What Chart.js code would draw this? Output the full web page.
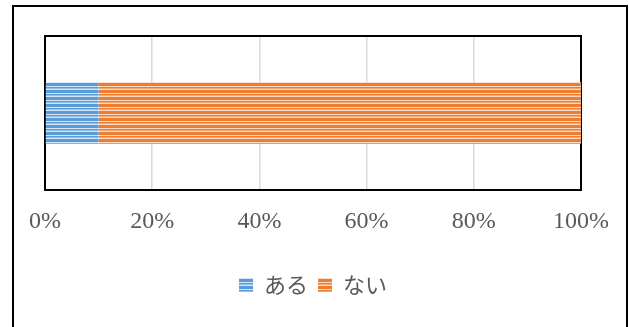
<!DOCTYPE html>
<html>
<head>
<meta charset="utf-8">
<script src="https://cdn.jsdelivr.net/npm/chart.js@4"></script>
<style>
  html, body { margin: 0; padding: 0; background: #ffffff; }
  #wrap { width: 629px; height: 327px; }
</style>
</head>
<body>
<div id="wrap"><canvas id="chart" width="629" height="327"></canvas></div>
<script>
// data
const categories = ["回答"];
const seriesNames = ["ある", "ない"];
const aruValues = [10];
const naiValues = [90];
const tickValues = [0, 20, 40, 60, 80, 100];

// striped fill like the office "horizontal lines" pattern
function stripes(dark, mid, light) {
  const c = document.createElement("canvas");
  c.width = 4;
  c.height = 7;
  const g = c.getContext("2d");
  const rows = [dark, dark, light, dark, mid, light, dark];
  rows.forEach(function (col, i) {
    g.fillStyle = col;
    g.fillRect(0, i, 4, 1);
  });
  return g.createPattern(c, "repeat");
}

const bluePattern = stripes("#5b9bd5", "#94bfe6", "#d3e5f5");
const orangePattern = stripes("#ed7d31", "#f3a872", "#fbd9c2");

// outer frame + plot border
const frames = {
  id: "frames",
  beforeDraw(chart) {
    const ctx = chart.ctx;
    ctx.save();
    ctx.fillStyle = "#ffffff";
    ctx.fillRect(0, 0, chart.width, chart.height);
    ctx.strokeStyle = "#000000";
    ctx.lineWidth = 2;
    ctx.strokeRect(13, 6, 614, 330);
    ctx.restore();
  },
  beforeDatasetsDraw(chart) {
    const a = chart.chartArea;
    const ctx = chart.ctx;
    ctx.save();
    ctx.strokeStyle = "#000000";
    ctx.lineWidth = 2;
    ctx.strokeRect(a.left, a.top, a.right - a.left, a.bottom - a.top);
    ctx.restore();
  }
};

const canvasRef = document.getElementById("chart");

let myChart = new Chart(canvasRef, {
  type: "bar",
  data: {
    labels: categories,
    datasets: [
      {
        label: seriesNames[0],
        data: aruValues,
        backgroundColor: bluePattern,
        borderWidth: 0,
        barPercentage: 1,
        categoryPercentage: 0.4,
      },
      {
        label: seriesNames[1],
        data: naiValues,
        backgroundColor: orangePattern,
        borderWidth: 0,
        barPercentage: 1,
        categoryPercentage: 0.4,
      },
    ],
  },
  options: {
    indexAxis: "y",
    responsive: false,
    animation: false,
    layout: {
      padding: { left: 45, right: 48, top: 36, bottom: 21 }
    },
    scales: {
      x: {
        stacked: true,
        min: 0,
        max: 100,
        afterBuildTicks(scale) {
          scale.ticks = tickValues.map(v => ({ value: v }));
        },
        afterFit(scale) {
          scale.height = 74;
        },
        grid: {
          color: "#d9d9d9",
          lineWidth: 1.5,
          drawTicks: false,
        },
        border: { display: false },
        ticks: {
          padding: 17,
          color: "#595959",
          font: { family: "'Liberation Serif', 'DejaVu Serif', serif", size: 24 },
          callback: v => v + "%",
        },
      },
      y: {
        stacked: true,
        display: false,
      },
    },
    plugins: {
      tooltip: { enabled: false },
      legend: {
        position: "bottom",
        labels: {
          boxWidth: 14,
          boxHeight: 14,
          padding: 10,
          color: "#595959",
          font: { family: "'Noto Sans CJK JP', sans-serif", size: 22 },
        },
      },
    },
  },
  plugins: [frames],
});
</script>
</body>
</html>
